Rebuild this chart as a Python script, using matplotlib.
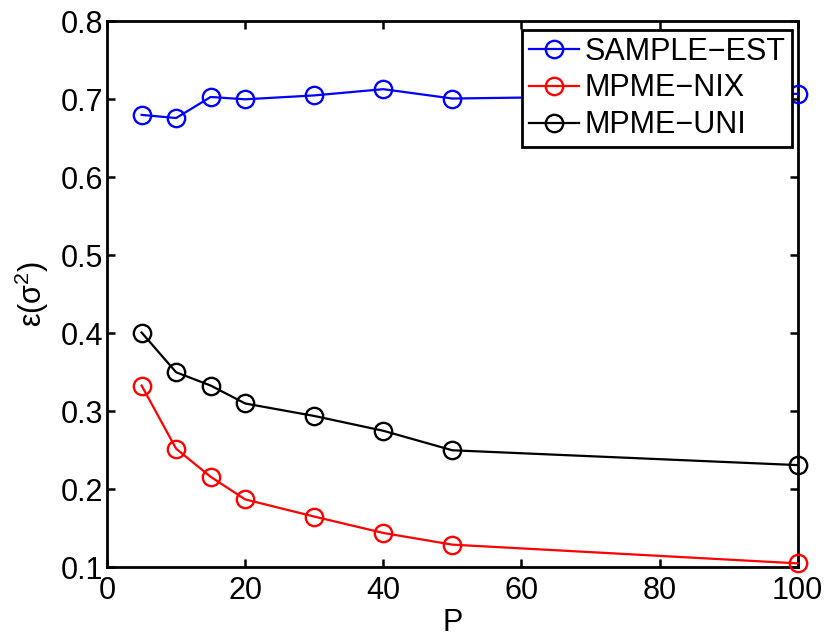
import matplotlib
matplotlib.use("Agg")
import matplotlib.pyplot as plt

plt.rcParams['font.family'] = ['Liberation Sans', 'DejaVu Sans']
plt.rcParams['mathtext.fontset'] = 'custom'
plt.rcParams['mathtext.rm'] = 'Liberation Sans'
plt.rcParams['mathtext.it'] = 'Liberation Sans'

P = [5, 10, 15, 20, 30, 40, 50, 100]
sample_est = [0.680, 0.676, 0.703, 0.700, 0.705, 0.713, 0.701, 0.707]
mpme_nix = [0.333, 0.252, 0.216, 0.187, 0.165, 0.144, 0.129, 0.105]
mpme_uni = [0.401, 0.350, 0.333, 0.310, 0.294, 0.275, 0.250, 0.231]
labels = ['SAMPLE\u2212EST', 'MPME\u2212NIX', 'MPME\u2212UNI']
colors = ['#0000ff', '#ff0000', '#000000']
xticks = [0, 20, 40, 60, 80, 100]
yticks = [0.1, 0.2, 0.3, 0.4, 0.5, 0.6, 0.7, 0.8]

fig = plt.figure(figsize=(8.3, 6.42), dpi=100)
ax = fig.add_axes([0.129, 0.1164, 0.832, 0.8504])

for ys, c, lab in zip([sample_est, mpme_nix, mpme_uni], colors, labels):
    ax.plot(P, ys, color=c, lw=1.6, marker='o', markersize=12.5,
            markerfacecolor='none', markeredgecolor=c, markeredgewidth=1.7,
            label=lab, clip_on=False, zorder=3)

ax.set_xlim(0, 100)
ax.set_ylim(0.1, 0.8)
ax.set_xticks(xticks)
ax.set_yticks(yticks)
ax.set_xticklabels([str(t) for t in xticks])
ax.set_yticklabels(['%.1f' % t for t in yticks])
ax.tick_params(direction='in', length=6, width=1.8, labelsize=22,
               top=True, right=True)
ax.tick_params(axis='y', pad=3)
ax.tick_params(axis='x', pad=6)
for s in ax.spines.values():
    s.set_linewidth(2.0)

ax.set_xlabel('P', fontsize=22, labelpad=2)
ax.set_ylabel(r'ε(σ$^2$)', fontsize=22, labelpad=7)

leg = ax.legend(loc='upper right', bbox_to_anchor=(0.9925, 0.984), fontsize=22,
                frameon=True, fancybox=False, edgecolor='black', framealpha=1,
                handlelength=1.63, handletextpad=0.2, labelspacing=0.22,
                borderpad=0.22, borderaxespad=0)
leg.get_frame().set_linewidth(2.0)
leg.set_zorder(5)

fig.savefig('out.png', dpi=100)
